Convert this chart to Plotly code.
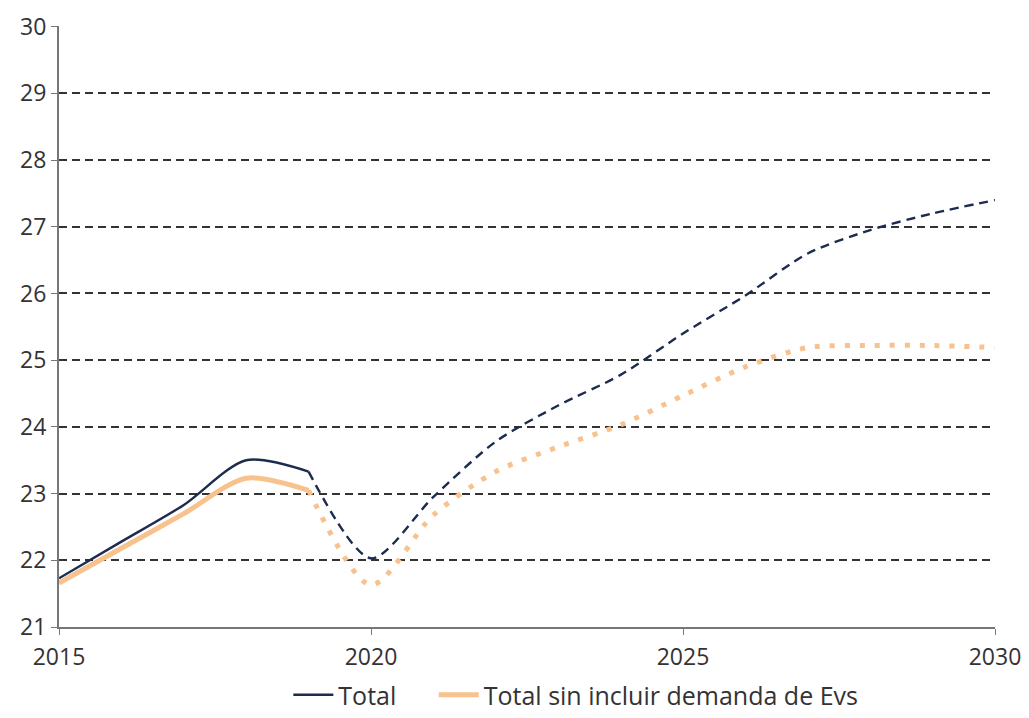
import plotly.graph_objects as go

# Años y valores
years = list(range(2015, 2031))
total = [21.73, 22.28, 22.83, 23.50, 23.33, 22.03, 22.95, 23.78, 24.32, 24.78,
         25.40, 25.97, 26.60, 26.95, 27.20, 27.40]
sin_evs = [21.66, 22.18, 22.70, 23.23, 23.05, 21.63, 22.68, 23.33, 23.70, 24.03,
           24.47, 24.90, 25.19, 25.22, 25.22, 25.19]
split = 4  # 2019: fin de datos históricos

y_ticks = list(range(21, 31))
x_ticks = [2015, 2020, 2025, 2030]

navy = "#1d2b4f"
orange = "#f8c28f"

fig = go.Figure()

# Total: histórico sólido, proyección discontinua
fig.add_trace(go.Scatter(x=years[:split + 1], y=total[:split + 1], mode="lines",
                         name="Total\u00a0\u00a0\u00a0\u00a0\u00a0",
                         line=dict(color=navy, width=2.4, shape="spline", smoothing=0.8)))
fig.add_trace(go.Scatter(x=years[split:], y=total[split:], mode="lines", showlegend=False,
                         line=dict(color=navy, width=2.4, dash="9px,6px", shape="spline", smoothing=0.8)))

# Total sin EVs: histórico sólido, proyección punteada
fig.add_trace(go.Scatter(x=years[:split + 1], y=sin_evs[:split + 1], mode="lines",
                         name="Total sin incluir demanda de Evs",
                         line=dict(color=orange, width=5, shape="spline", smoothing=0.8)))
fig.add_trace(go.Scatter(x=years[split:], y=sin_evs[split:], mode="lines", showlegend=False,
                         line=dict(color=orange, width=5, dash="5px,10px", shape="spline", smoothing=0.8)))

# la página tiene un margen de 8px en el body, por eso 1021x710
fig.update_layout(
    width=1021, height=710,
    paper_bgcolor="white", plot_bgcolor="white",
    margin=dict(l=51, r=34, t=18, b=91),
    font=dict(family="'Open Sans', Lato, sans-serif", size=23, color="#333333"),
    legend=dict(orientation="h", x=0.245, xanchor="left", y=-0.012, yref="container", yanchor="bottom",
                font=dict(size=25, color="#333333"), itemwidth=40, traceorder="normal"),
    showlegend=True,
)

fig.update_xaxes(range=[2015, 2030], tickvals=x_ticks, showgrid=False, automargin=False,
                 showline=True, linecolor="#777777", linewidth=2, ticklabelstandoff=2,
                 ticks="outside", ticklen=6, tickcolor="#777777", zeroline=False)
fig.update_yaxes(range=[21, 30.01], tickvals=y_ticks, showgrid=True, gridcolor="#333333",
                 griddash="8px,5px", gridwidth=1.5, automargin=False,
                 showline=True, linecolor="#777777", linewidth=2,
                 ticks="outside", ticklen=6, tickcolor="#777777", zeroline=False)

fig.write_html("out.html")
